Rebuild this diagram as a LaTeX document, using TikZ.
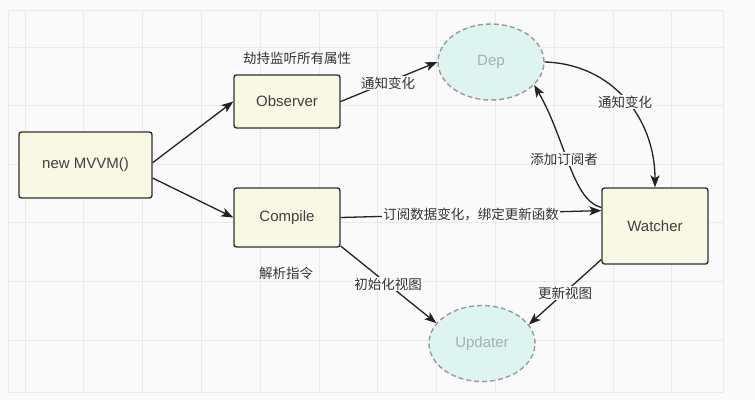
\documentclass[tikz,border=0pt]{standalone}
\usepackage{fontspec}
\setmainfont{Liberation Sans}
\newfontfamily\cjk{Noto Sans CJK SC}
\usetikzlibrary{arrows.meta,shapes.geometric}
\definecolor{bgc}{HTML}{FAFAFA}
\definecolor{gridc}{HTML}{EAEAEA}
\definecolor{boxfill}{HTML}{F8F8E4}
\definecolor{boxline}{HTML}{303030}
\definecolor{ellfill}{HTML}{DDF4F1}
\definecolor{ellline}{HTML}{9A9A9A}
\definecolor{elltext}{HTML}{A8B0B0}
\definecolor{txt}{HTML}{404040}
\definecolor{arr}{HTML}{222222}
\tikzset{
  boxnode/.style={draw=boxline, fill=boxfill, line width=1.4pt, rounded corners=2.5pt,
    text=txt, font=\fontsize{15}{17}\selectfont, inner sep=0pt},
  ellnode/.style={ellipse, draw=ellline, fill=ellfill, line width=1.4pt,
    dash pattern=on 5pt off 3pt, text=elltext, font=\fontsize{15}{17}\selectfont,
    minimum width=106pt, minimum height=76pt, inner sep=0pt},
  conn/.style={draw=arr, line width=1.3pt, -{Stealth[length=12pt,width=9pt,inset=3pt]}},
  plain/.style={draw=arr, line width=1.3pt},
  lbl/.style={font=\cjk\fontsize{13.5}{15}\selectfont, text=black!80, inner sep=1pt},
  lblbg/.style={lbl, fill=bgc},
}
\begin{document}
\begin{tikzpicture}[x=1pt,y=-1pt]
\useasboundingbox (0,0) rectangle (755,400);
\fill[bgc] (0,0) rectangle (755,400);
% background grid
\foreach \i in {0,...,11} { \draw[gridc, line width=0.8pt] ({25+58.8*\i},10) -- ({25+58.8*\i},392); }
\foreach \j in {0,...,5} { \draw[gridc, line width=0.8pt] (8,{47+58.6*\j}) -- (723,{47+58.6*\j}); }
\draw[gridc, line width=0.8pt] (8,10) rectangle (723,392);

% nodes
\node[boxnode, minimum width=133pt, minimum height=66pt] (mvvm) at (85.5,165) {new MVVM()};
\node[boxnode, minimum width=106pt, minimum height=53pt] (obs) at (287,101.5) {Observer};
\node[boxnode, minimum width=106pt, minimum height=59pt] (comp) at (287,217.5) {Compile};
\node[boxnode, minimum width=106pt, minimum height=76pt] (watch) at (655,226) {Watcher};
\node[ellnode] (dep) at (491,62) {Dep};
\node[ellnode] (upd) at (482,343.5) {Updater};

% connectors
\draw[conn] (mvvm.2) -- (obs.west);
\draw[conn] (mvvm.-11) -- (comp.west);
\draw[conn] (obs.east) -- (dep.west);
\draw[conn] (dep.east) .. controls (612,64) and (655,118) .. (watch.north);
\draw[conn] (watch.161) .. controls (572,200) and (566,140) .. (dep.-28);
\draw[conn] (comp.east) -- (watch.164);
\draw[conn] (comp.-28) -- (upd.156);
\draw[conn] (watch.-148) -- (upd.22);

% labels
\node[lbl] (t1) at (297,58) {劫持监听所有属性};
\node[lblbg] (t2) at (388,83) {通知变化};
\node[lblbg] (t3) at (625,102) {通知变化};
\node[lblbg] (t4) at (564,159) {添加订阅者};
\node[lblbg] (t5) at (471,214) {订阅数据变化，绑定更新函数};
\node[lbl] (t6) at (286,273) {解析指令};
\node[lblbg] (t7) at (388,284) {初始化视图};
\node[lblbg] (t8) at (565,293) {更新视图};
\end{tikzpicture}
\end{document}
